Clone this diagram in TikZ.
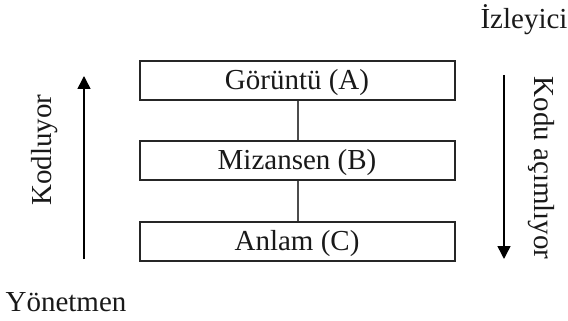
\documentclass[tikz,border=0pt]{standalone}
\usepackage{fontspec}
\setmainfont{Liberation Serif}
\usetikzlibrary{arrows.meta}
\begin{document}
\begin{tikzpicture}[x=1pt,y=-1pt,
  every node/.style={font=\fontsize{29}{32}\selectfont, text=black!90},
  lbox/.style={draw=black!85, line width=2pt, minimum width=315pt, minimum height=39pt, inner sep=0pt, anchor=north west},
  conn/.style={draw=black!70, line width=2pt},
  flow/.style={draw=black, line width=1.5pt, -{Triangle[width=13pt,length=13pt]}}]
\useasboundingbox (0,0) rectangle (568,321);
\node[lbox] (A) at (139,60) {};
\node at (297,83) {Görüntü (A)};
\node[lbox] (B) at (139,140) {};
\node at (297,163) {Mizansen (B)};
\node[lbox] (C) at (139,221) {};
\node at (297,244) {Anlam (C)};
\draw[conn] (A.south) -- (B.north);
\draw[conn] (B.south) -- (C.north);
\coordinate (l0) at (84,259);
\coordinate (l1) at (84,76);
\draw[flow] (l0) -- (l1);
\coordinate (r0) at (504,75);
\coordinate (r1) at (504,259);
\draw[flow] (r0) -- (r1);
\node[rotate=90] (kod) at (45,150) {Kodluyor};
\node[rotate=-90] (ac) at (541,168) {Kodu açımlıyor};
\node (iz) at (524,20) {İzleyici};
\node (yo) at (66,302) {Yönetmen};
\end{tikzpicture}
\end{document}
